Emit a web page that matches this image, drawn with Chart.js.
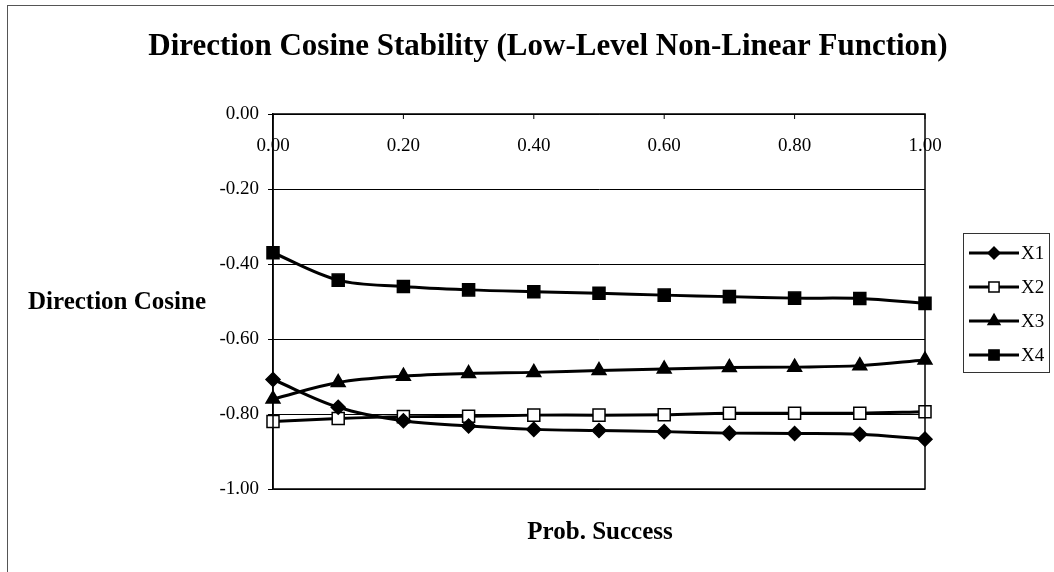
<!DOCTYPE html>
<html>
<head>
<meta charset="utf-8">
<script src="https://cdn.jsdelivr.net/npm/chart.js@4.4.1/dist/chart.umd.min.js"></script>
<style>
  html, body { margin:0; padding:0; background:#fff; }
  #wrap { position:relative; width:1054px; height:572px; overflow:hidden; }
  #frame { position:absolute; left:7px; top:5px; width:1100px; height:620px; border:1.5px solid #555; box-sizing:border-box; pointer-events:none; }
  canvas { position:absolute; left:0; top:0; }
</style>
</head>
<body>
<div id="wrap">
  <canvas id="c" width="1054" height="572"></canvas>
  <div id="frame"></div>
</div>
<script>
// ---- data ----
const probSuccess = [0.0, 0.1, 0.2, 0.3, 0.4, 0.5, 0.6, 0.7, 0.8, 0.9, 1.0];
const x1 = [-0.708, -0.782, -0.818, -0.832, -0.841, -0.844, -0.847, -0.851, -0.852, -0.854, -0.867];
const x2 = [-0.820, -0.812, -0.807, -0.806, -0.803, -0.803, -0.802, -0.798, -0.798, -0.798, -0.794];
const x3 = [-0.760, -0.716, -0.699, -0.692, -0.689, -0.684, -0.680, -0.676, -0.675, -0.671, -0.656];
const x4 = [-0.370, -0.443, -0.460, -0.469, -0.474, -0.478, -0.483, -0.487, -0.491, -0.492, -0.505];
const seriesNames = ['X1', 'X2', 'X3', 'X4'];
const xTickValues = [0.0, 0.2, 0.4, 0.6, 0.8, 1.0];
const yTickValues = [0.0, -0.2, -0.4, -0.6, -0.8, -1.0];
const titleText = 'Direction Cosine Stability (Low-Level Non-Linear Function)';
const yTitleText = 'Direction Cosine';
const xTitleText = 'Prob. Success';

const FONT = '"Liberation Serif", "Times New Roman", serif';
const pts = arr => arr.map((v, i) => ({ x: probSuccess[i], y: v }));

const styles = [
  { pointStyle: 'rectRot', radius: 7, bg: '#000' },
  { pointStyle: 'rect', radius: 8.5, bg: '#fff' },
  { pointStyle: 'triangle', radius: 8, bg: '#000' },
  { pointStyle: 'rect', radius: 8.5, bg: '#000' }
];
const values = [x1, x2, x3, x4];

const datasets = values.map((v, k) => ({
  label: seriesNames[k],
  data: pts(v),
  borderColor: '#000',
  borderWidth: 3,
  tension: 0.35,
  pointStyle: styles[k].pointStyle,
  pointRadius: styles[k].radius,
  pointBackgroundColor: styles[k].bg,
  pointBorderColor: '#000',
  pointBorderWidth: 1.5,
  pointHoverRadius: styles[k].radius,
  clip: false
}));

const decor = {
  id: 'decor',
  afterDraw(chart) {
    const ctx = chart.ctx;
    const a = chart.chartArea;
    const xs = chart.scales.x;
    ctx.save();
    // plot frame
    ctx.strokeStyle = '#000';
    ctx.lineWidth = 1.5;
    ctx.strokeRect(a.left, a.top, a.right - a.left, a.bottom - a.top);
    // x ticks (inside, pointing down) and labels below the top axis
    ctx.lineWidth = 1;
    ctx.fillStyle = '#000';
    ctx.font = '19px ' + FONT;
    ctx.textAlign = 'center';
    ctx.textBaseline = 'middle';
    xTickValues.forEach(v => {
      const px = xs.getPixelForValue(v);
      ctx.beginPath();
      ctx.moveTo(px, a.top);
      ctx.lineTo(px, a.top + 5);
      ctx.stroke();
      ctx.fillText(v.toFixed(2), px, a.top + 32);
    });
    // titles
    ctx.font = 'bold 31px ' + FONT;
    ctx.fillText(titleText, 548, 47);
    ctx.font = 'bold 25px ' + FONT;
    ctx.fillText(yTitleText, 117, 303);
    ctx.fillText(xTitleText, 600, 533);
    // legend
    const lx = 963, ly = 233, lw = 86, lh = 139;
    ctx.lineWidth = 1;
    ctx.strokeStyle = '#333';
    ctx.strokeRect(lx + 0.5, ly + 0.5, lw, lh);
    const rows = [253, 287, 321, 355];
    chart.data.datasets.forEach((ds, k) => {
      const y = rows[k];
      ctx.strokeStyle = '#000';
      ctx.lineWidth = 3;
      ctx.beginPath();
      ctx.moveTo(969, y);
      ctx.lineTo(1019, y);
      ctx.stroke();
      ctx.fillStyle = ds.pointBackgroundColor;
      ctx.strokeStyle = '#000';
      ctx.lineWidth = 1.5;
      Chart.helpers.drawPoint(ctx, { pointStyle: ds.pointStyle, radius: ds.pointRadius * 0.85, borderWidth: 1.5 }, 994, y);
      ctx.fillStyle = '#000';
      ctx.font = '19px ' + FONT;
      ctx.textAlign = 'left';
      ctx.fillText(ds.label, 1021, y + 1);
    });
    ctx.restore();
  }
};

new Chart(document.getElementById('c'), {
  type: 'line',
  data: { datasets },
  options: {
    responsive: false,
    animation: false,
    devicePixelRatio: 1,
    layout: { padding: { top: 114, left: 0, right: 129, bottom: 83 } },
    plugins: { legend: { display: false }, title: { display: false }, tooltip: { enabled: false } },
    scales: {
      x: {
        type: 'linear',
        position: 'top',
        min: 0, max: 1,
        ticks: { display: false },
        grid: { display: false },
        border: { display: false },
        afterFit(s) { s.height = 0; }
      },
      y: {
        type: 'linear',
        min: -1, max: 0,
        afterBuildTicks(s) { s.ticks = yTickValues.map(v => ({ value: v })); },
        ticks: {
          color: '#000',
          font: { family: FONT, size: 19 },
          padding: 9,
          callback: v => Number(v).toFixed(2)
        },
        grid: { color: '#000', lineWidth: 1, tickLength: 5, drawTicks: true },
        border: { display: true, color: '#000', width: 1.5 },
        afterFit(s) { s.width = 273; }
      }
    }
  },
  plugins: [decor]
});
</script>
</body>
</html>
